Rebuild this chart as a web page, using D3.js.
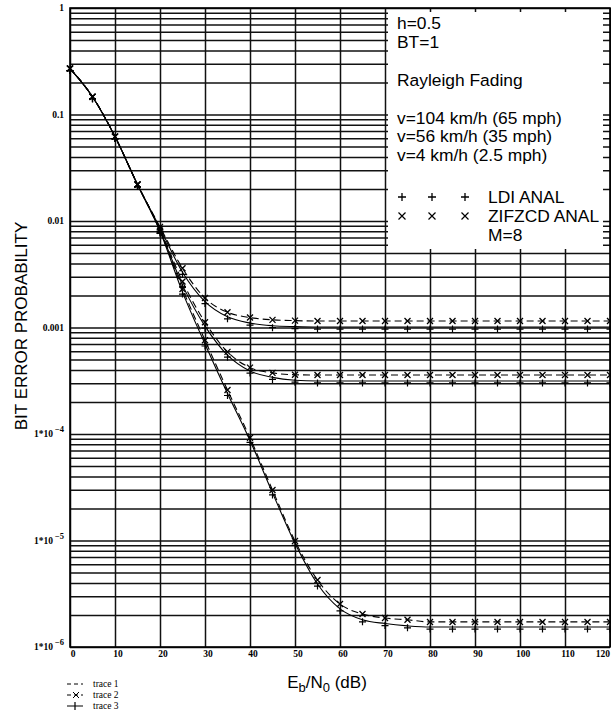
<!DOCTYPE html>
<html><head><meta charset="utf-8">
<script src="https://cdn.jsdelivr.net/npm/d3@7"></script>
<style>body{margin:0;background:#fff}svg{display:block}</style>
</head><body>
<svg id="c" width="611" height="714"></svg>
<script>
const ebno = [0,5,10,15,20,25,30,35,40,45,50,55,60,65,70,75,80,85,90,95,100,105,110,115,120];
const xTicks = [0,10,20,30,40,50,60,70,80,90,100,110,120];
const yDecades = [1,0.1,0.01,0.001,1e-4,1e-5,1e-6];
const yLabelMain = ["1","0.1","0.01","0.001","1*10","1*10","1*10"];
const yLabelExp = ["","","","","\u22124","\u22125","\u22126"];
// v=104 km/h
const v104Zif = [0.27,0.147,0.062,0.022,0.0088,0.0036,0.00189,0.00139,0.00124,0.00118,0.00116,0.00115,0.00115,0.00115,0.00115,0.00115,0.00115,0.00115,0.00115,0.00115,0.00115,0.00115,0.00115,0.00115,0.00115];
const v104Ldi = [0.27,0.147,0.062,0.022,0.0086,0.0033,0.00175,0.00126,0.0011,0.00104,0.00102,0.00101,0.00101,0.00101,0.00101,0.00101,0.00101,0.00101,0.00101,0.00101,0.00101,0.00101,0.00101,0.00101,0.00101];
// v=56 km/h
const v56Zif = [0.27,0.147,0.062,0.022,0.0084,0.0027,0.00112,5.9e-4,4.2e-4,3.75e-4,3.6e-4,3.58e-4,3.58e-4,3.58e-4,3.58e-4,3.58e-4,3.58e-4,3.58e-4,3.58e-4,3.58e-4,3.58e-4,3.58e-4,3.58e-4,3.58e-4,3.58e-4];
const v56Ldi = [0.27,0.147,0.062,0.022,0.0082,0.0025,0.00103,5.5e-4,3.9e-4,3.4e-4,3.2e-4,3.15e-4,3.15e-4,3.15e-4,3.15e-4,3.15e-4,3.15e-4,3.15e-4,3.15e-4,3.15e-4,3.15e-4,3.15e-4,3.15e-4,3.15e-4,3.15e-4];
// v=4 km/h
const v4Zif = [0.27,0.147,0.062,0.022,0.0081,0.0023,7.6e-4,2.59e-4,9.2e-5,2.98e-5,9.9e-6,4.25e-6,2.53e-6,2.04e-6,1.87e-6,1.8e-6,1.72e-6,1.72e-6,1.72e-6,1.72e-6,1.72e-6,1.72e-6,1.72e-6,1.72e-6,1.72e-6];
const v4Ldi = [0.27,0.147,0.062,0.022,0.008,0.00215,7.0e-4,2.4e-4,8.7e-5,2.8e-5,9.4e-6,3.9e-6,2.28e-6,1.8e-6,1.66e-6,1.58e-6,1.54e-6,1.54e-6,1.54e-6,1.54e-6,1.54e-6,1.54e-6,1.54e-6,1.54e-6,1.54e-6];
const boxLines = ["h=0.5","BT=1","","Rayleigh Fading","","v=104 km/h (65 mph)","v=56 km/h (35 mph)","v=4 km/h (2.5 mph)"];
const traceNames = ["trace 1","trace 2","trace 3"];

const svg = d3.select("#c");
const L=70,R=610,T=8,B=647;
const x = d3.scaleLinear().domain([0,120]).range([L,R]);
const y = d3.scaleLog().domain([1e-6,1]).range([B,T]);

const hGrid = [];
for (let e=-6;e<0;e++) for (let m=1;m<10;m++) hGrid.push(m*Math.pow(10,e));
hGrid.push(1);

const gx = svg.append("g").attr("transform",`translate(0,${B})`)
  .call(d3.axisBottom(x).tickValues(xTicks).tickSize(-(B-T)).tickFormat(""));
const gy = svg.append("g").attr("transform",`translate(${L},0)`)
  .call(d3.axisLeft(y).tickValues(hGrid).tickSize(-(R-L)).tickFormat(""));
[gx,gy].forEach(g=>{g.select(".domain").remove();g.selectAll("line").attr("stroke","#111").attr("stroke-width",1.5);});

// legend box (covers grid)
svg.append("rect").attr("x",388).attr("y",12).attr("width",215).attr("height",237).attr("fill","#fff");

// frame
svg.append("rect").attr("x",L).attr("y",T).attr("width",R-L).attr("height",B-T)
  .attr("fill","none").attr("stroke","#000").attr("stroke-width",1.6);

// curves
const line = d3.line().x((d,i)=>x(ebno[i])).y(d=>y(d)).curve(d3.curveMonotoneX);
const zif = [v104Zif,v56Zif,v4Zif], ldi=[v104Ldi,v56Ldi,v4Ldi];
const cg = svg.append("g");
ldi.forEach(s=>{
  cg.append("path").attr("d",line(s)).attr("fill","none").attr("stroke","#000").attr("stroke-width",1.1);
  s.forEach((v,i)=>{const px=x(ebno[i]),py=y(v)+2;
    cg.append("path").attr("d",`M${px-3.5},${py}H${px+3.5}M${px},${py-3.5}V${py+3.5}`).attr("stroke","#000").attr("stroke-width",1.2);});
});
zif.forEach(s=>{
  cg.append("path").attr("d",line(s)).attr("fill","none").attr("stroke","#000").attr("stroke-width",1.1).attr("stroke-dasharray","7,4");
  s.forEach((v,i)=>{const px=x(ebno[i]),py=y(v);
    cg.append("path").attr("d",`M${px-3},${py-3}L${px+3},${py+3}M${px-3},${py+3}L${px+3},${py-3}`).attr("stroke","#000").attr("stroke-width",1.3);});
});

// tick labels
svg.append("g").selectAll("text").data(xTicks).join("text")
  .attr("x",d=>d===120?610:x(d)+3).attr("y",657).attr("text-anchor",d=>d===120?"end":"middle")
  .attr("font-family","Liberation Serif").attr("font-weight","bold").attr("font-size",9.5).text(d=>d);
const yl = svg.append("g").selectAll("text").data(yDecades).join("text")
  .attr("x",64).attr("y",d=>y(d)+3).attr("text-anchor","end")
  .attr("font-family","Liberation Serif").attr("font-weight","bold").attr("font-size",9.5);
yl.each(function(d,i){
  const t=d3.select(this);
  t.append("tspan").text(yLabelMain[i]);
  if (yLabelExp[i]) t.append("tspan").attr("dy",-5).attr("dx",2).attr("font-size",8.5).text(yLabelExp[i]);
});

// box text
const bt = svg.append("g").attr("font-family","Liberation Sans").attr("font-size",17.4).attr("fill","#000");
boxLines.forEach((s,i)=>{ if(s) bt.append("text").attr("x",397).attr("y",29+i*18.9).text(s); });
const markX=[402,432,465];
markX.forEach(mx=>{
  bt.append("path").attr("d",`M${mx-4},197H${mx+4}M${mx},193V201`).attr("stroke","#000").attr("stroke-width",1.3);
  bt.append("path").attr("d",`M${mx-3.5},212.5L${mx+3.5},219.5M${mx-3.5},219.5L${mx+3.5},212.5`).attr("stroke","#000").attr("stroke-width",1.2);
});
bt.append("text").attr("x",488).attr("y",203).text("LDI ANAL");
bt.append("text").attr("x",488).attr("y",222).text("ZIFZCD ANAL");
bt.append("text").attr("x",488).attr("y",241).text("M=8");

// axis titles
svg.append("text").attr("transform","translate(27,326) rotate(-90)").attr("text-anchor","middle")
  .attr("font-family","Liberation Sans").attr("font-size",17).text("BIT ERROR PROBABILITY");
const xt = svg.append("text").attr("x",327).attr("y",688).attr("text-anchor","middle")
  .attr("font-family","Liberation Sans").attr("font-size",17);
xt.append("tspan").text("E");
xt.append("tspan").attr("dy",4).attr("font-size",13).text("b");
xt.append("tspan").attr("dy",-4).text("/N");
xt.append("tspan").attr("dy",4).attr("font-size",13).text("0");
xt.append("tspan").attr("dy",-4).text(" (dB)");

// trace legend
const lg = svg.append("g");
traceNames.forEach((n,i)=>{
  const ly = 684+i*11;
  lg.append("text").attr("x",93).attr("y",ly+3).attr("font-family","Liberation Serif").attr("font-size",9.5).text(n);
});
lg.append("path").attr("d","M67,684H83").attr("stroke","#000").attr("stroke-width",1).attr("stroke-dasharray","4,3");
lg.append("path").attr("d","M67,695H83").attr("stroke","#000").attr("stroke-width",1).attr("stroke-dasharray","4,3");
lg.append("path").attr("d","M73,692L79,698M73,698L79,692").attr("stroke","#000").attr("stroke-width",1);
lg.append("path").attr("d","M67,706H83M75,702V710").attr("stroke","#000").attr("stroke-width",1.2);
</script>
</body></html>
